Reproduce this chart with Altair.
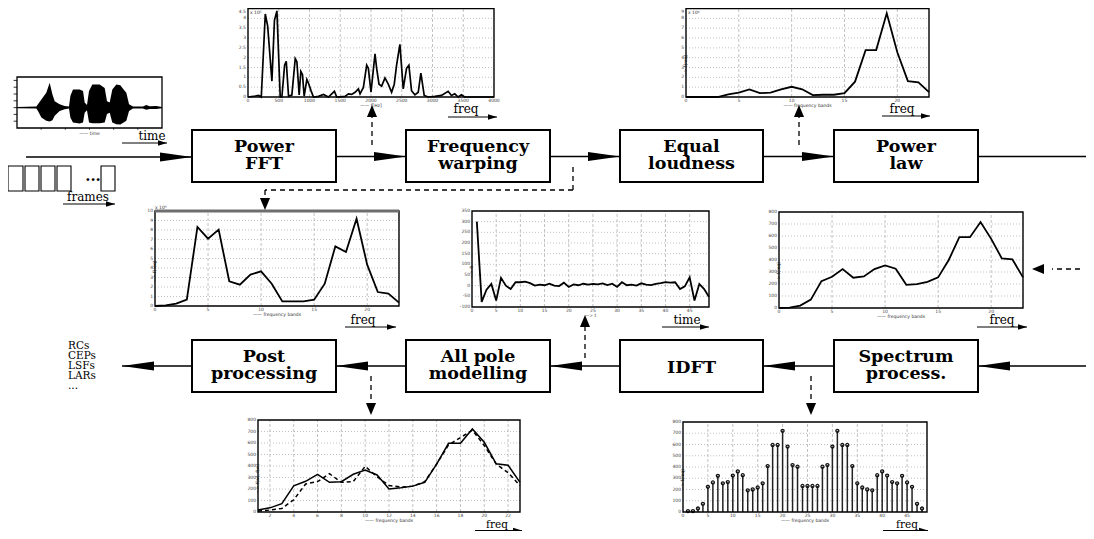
import altair as alt
import pandas as pd

# ===================== values =====================
# input speech signal: upper / lower envelope of the waveform
wave_t = [0.0, 0.200, 0.217, 0.252, 0.303, 0.338, 0.366, 0.390, 0.441, 0.493, 0.538, 0.552,
          0.579, 0.648, 0.683, 0.700, 0.724, 0.745, 0.779, 0.855, 0.907, 0.931, 0.959, 0.986,
          1.028, 1.069, 1.103, 1.131, 1.159, 1.200, 1.303, 1.338, 1.372, 1.441, 1.5]
wave_up = [0.02, 0.03, 0.10, 0.24, 0.44, 0.73, 0.39, 0.19, 0.10, 0.05, 0.03, 0.34,
           0.53, 0.53, 0.49, 0.15, 0.08, 0.49, 0.68, 0.68, 0.58, 0.19, 0.15, 0.53,
           0.68, 0.66, 0.53, 0.44, 0.10, 0.03, 0.03, 0.08, 0.04, 0.05, 0.02]
wave_lo = [-0.02, -0.03, -0.10, -0.29, -0.39, -0.41, -0.37, -0.24, -0.10, -0.05, -0.03, -0.29,
           -0.44, -0.47, -0.44, -0.15, -0.08, -0.44, -0.46, -0.46, -0.44, -0.19, -0.15, -0.44,
           -0.49, -0.50, -0.44, -0.39, -0.10, -0.03, -0.03, -0.06, -0.04, -0.04, -0.02]

# power spectrum (FFT) of one frame
fft_f = [0, 119, 173, 216, 281, 320, 389, 430, 470, 524, 551, 595, 622, 659, 713, 768, 795,
         832, 859, 886, 913, 957, 984, 1027, 1065, 1146, 1227, 1308, 1405, 1443, 1578, 1632,
         1686, 1741, 1795, 1822, 1876, 1930, 1957, 2000, 2065, 2092, 2130, 2173, 2227, 2281,
         2335, 2378, 2416, 2470, 2524, 2578, 2616, 2659, 2714, 2768, 2811, 2865, 2930, 3038,
         3146, 3254, 3308, 3362, 3416, 3470, 3524, 4000]
fft_p = [0, 0.05, 0.08, 0, 4.22, 3.6, 0.81, 3.9, 4.38, 0, 0, 1.62, 1.82, 0.05, 0.1, 1.95, 1.79,
         0.1, 1.30, 1.14, 0.05, 0.89, 0.7, 0.3, 0, 0.03, 0.13, 0, 0.29, 0, 0.03, 0.16,
         0.13, 0.24, 0.41, 0.16, 0.49, 1.62, 1.46, 0.24, 2.19, 1.46, 0.65, 0.55, 0.97, 0.65,
         0.24, 0.65, 1.62, 2.68, 0.41, 1.46, 1.62, 0.32, 0.11, 0.24, 1.22, 0.08, 0, 0.03,
         0.08, 0.29, 0.08, 0.16, 0, 0.11, 0, 0]

bands = [0, 1, 2, 3, 4, 5, 6, 7, 8, 9, 10, 11, 12, 13, 14, 15, 16, 17, 18, 19, 20, 21, 22, 23]
# after equal loudness weighting
eql_loud = [0, 0, 0, 0, 0.26, 0.45, 0.78, 0.39, 0.45, 0.78, 1.04, 0.78, 0.19, 0.23, 0.23,
            0.39, 1.56, 4.77, 4.77, 8.51, 4.55, 1.62, 1.49, 0.49]
# after frequency warping (critical band spectrum)
warped = [0, 0.07, 0.25, 0.67, 8.32, 7.09, 8.04, 2.6, 2.25, 3.3, 3.65, 2.35, 0.49, 0.49,
          0.49, 0.67, 2.35, 6.28, 5.68, 9.19, 4.35, 1.47, 1.30, 0.35]
# after power law
powlaw = [0, 3, 20, 70, 224, 260, 324, 252, 263, 324, 355, 327, 193, 199, 218, 255, 400, 590,
          590, 716, 576, 414, 406, 255]

# autocorrelation (IDFT output)
lags = [1, 2, 3, 4, 5, 6, 7, 8, 9, 10, 11, 12, 13, 14, 15, 16, 17, 18, 19, 20, 21, 22, 23, 24,
        25, 26, 27, 28, 29, 30, 31, 32, 33, 34, 35, 36, 37, 38, 39, 40, 41, 42, 43, 44, 45, 46,
        47, 48, 49]
autocorr = [300, -76, -19, 8, -70, 37, 0, -16, 16, 16, 19, 12, 0, 5, 2, 9, 0, -2, 14, -6, 6, 2,
            9, 5, 8, 6, 11, 3, 9, -6, 16, 2, 5, 0, 11, 5, 3, 8, 12, 17, 14, 16, -16, -3, 39,
            -70, 8, -16, -53]

# spectrum vs all-pole model
bands_d = [1, 2, 3, 4, 5, 6, 7, 8, 9, 10, 11, 12, 13, 14, 15, 16, 17, 18, 19, 20, 21, 22, 23]
spec_d = [17, 36, 72, 228, 267, 328, 258, 264, 328, 364, 322, 200, 211, 225, 258, 417, 597,
          597, 722, 606, 419, 406, 258]
allpole_d = [8, 17, 31, 106, 244, 264, 333, 258, 264, 397, 306, 231, 217, 225, 264, 417, 583,
             647, 711, 578, 417, 342, 230]

# symmetrised spectrum (stem plot)
idx_e = [1, 2, 3, 4, 5, 6, 7, 8, 9, 10, 11, 12, 13, 14, 15, 16, 17, 18, 19, 20, 21, 22, 23, 24,
         25, 26, 27, 28, 29, 30, 31, 32, 33, 34, 35, 36, 37, 38, 39, 40, 41, 42, 43, 44, 45, 46,
         47, 48]
stems_e = [8, 8, 31, 73, 224, 263, 322, 255, 266, 324, 361, 327, 193, 201, 218, 255, 408, 596,
           596, 722, 582, 417, 403, 232, 232, 232, 232, 403, 417, 582, 722, 596, 596, 408, 255,
           218, 201, 193, 327, 361, 324, 266, 255, 322, 263, 224, 73, 31]

# block labels
top_blocks = ["Power\nFFT", "Frequency\nwarping", "Equal\nloudness", "Power\nlaw"]
bottom_blocks = ["Post\nprocessing", "All pole\nmodelling", "IDFT", "Spectrum\nprocess."]
outputs = ["RCs", "CEPs", "LSFs", "LARs", "..."]

# ===================== layout (page pixels) =====================
OFF = 8
COLS = [(192, 336), (406, 550), (620, 763), (834, 978)]
ROW_TOP = (130, 182)
ROW_BOT = (340, 392)
PANELS = {
    "wave": (17, 77, 162, 128),
    "fft": (248, 8.5, 494, 97),
    "eql": (686, 8.5, 929, 97),
    "warp": (155, 211, 399, 306),
    "acf": (472, 211, 709, 307),
    "plaw": (779, 212, 1023, 308),
    "ap": (258, 420, 520, 512),
    "stem": (683, 422, 927, 512),
}
GRID = "#a8a8a8"
SERIF = "DejaVu Serif"
SANS = "DejaVu Sans"

CX = alt.Scale(domain=[0, 1094], range=[-OFF, 1094 - OFF], nice=False, zero=False)
CY = alt.Scale(domain=[0, 539], range=[-OFF, 539 - OFF], nice=False, zero=False)


def cxe(f):
    return alt.X(f, type="quantitative", scale=CX, axis=None)


def cye(f):
    return alt.Y(f, type="quantitative", scale=CY, axis=None)


def PX(f, s):
    return alt.X(f, type="quantitative", scale=s, axis=None)


def PY(f, s):
    return alt.Y(f, type="quantitative", scale=s, axis=None)


layers = []

# ---------------------------------------------------------------- panels
def scales(key, xdom, ydom):
    l, t, r, b = PANELS[key]
    xs = alt.Scale(domain=xdom, range=[l - OFF, r - OFF], nice=False, zero=False)
    ys = alt.Scale(domain=ydom, range=[b - OFF, t - OFF], nice=False, zero=False)
    return xs, ys


def grid(xs, ys, xdom, ydom, xg, yg):
    out = []
    if xg:
        d = pd.DataFrame({"v": xg, "a": ydom[0], "b": ydom[1]})
        out.append(alt.Chart(d).mark_rule(color=GRID, strokeWidth=0.7, strokeDash=[3, 2])
                   .encode(x=PX("v", xs), y=PY("a", ys), y2="b"))
    if yg:
        d = pd.DataFrame({"v": yg, "a": xdom[0], "b": xdom[1]})
        out.append(alt.Chart(d).mark_rule(color=GRID, strokeWidth=0.7, strokeDash=[1, 2])
                   .encode(y=PY("v", ys), x=PX("a", xs), x2="b"))
    return out


def frame(xs, ys, xdom, ydom, w=1.4):
    d = pd.DataFrame({"x0": [xdom[0]], "x1": [xdom[1]], "y0": [ydom[0]], "y1": [ydom[1]]})
    return alt.Chart(d).mark_rect(fillOpacity=0, stroke="black", strokeWidth=w).encode(
        x=PX("x0", xs), x2="x1", y=PY("y0", ys), y2="y1")


def ticklabels(xs, ys, xdom, ydom, xt, yt, top_inside=False):
    out = []
    d1 = pd.DataFrame({"v": xt, "t": [f"{v:g}" for v in xt], "p": ydom[0]})
    out.append(alt.Chart(d1).mark_text(font=SANS, fontSize=4.5, color="#444", baseline="top",
                                       dy=0.5).encode(
        x=PX("v", xs), y=PY("p", ys), text="t:N"))
    body = yt[:-1] if top_inside else yt
    d2 = pd.DataFrame({"v": body, "t": [f"{v:g}" for v in body], "p": xdom[0]})
    out.append(alt.Chart(d2).mark_text(font=SANS, fontSize=4.5, color="#444", align="right",
                                       baseline="middle", dx=-2).encode(
        x=PX("p", xs), y=PY("v", ys), text="t:N"))
    if top_inside:
        d3 = pd.DataFrame({"v": yt[-1:], "t": [f"{v:g}" for v in yt[-1:]], "p": xdom[0]})
        out.append(alt.Chart(d3).mark_text(font=SANS, fontSize=4.5, color="#444", align="right",
                                           baseline="top", dx=-2).encode(
            x=PX("p", xs), y=PY("v", ys), text="t:N"))
    return out


def note(xs, ys, x, y, text, dx=0, dy=0, angle=0, align="center", baseline="middle", size=4.5):
    d = pd.DataFrame({"x": [x], "y": [y], "t": [text]})
    return alt.Chart(d).mark_text(font=SANS, fontSize=size, color="#333", dx=dx, dy=dy,
                                  angle=angle, align=align, baseline=baseline).encode(
        x=PX("x", xs), y=PY("y", ys), text="t:N")


def line(xs, ys, xv, yv, dash=None, w=1.8):
    d = pd.DataFrame({"x": xv, "y": yv})
    kw = dict(color="black", strokeWidth=w)
    if dash:
        kw["strokeDash"] = dash
    return alt.Chart(d).mark_line(**kw).encode(x=PX("x", xs), y=PY("y", ys))


def std_panel(key, xdom, ydom, xt, yt, xtitle, ytitle, top_note=None):
    xs, ys = scales(key, xdom, ydom)
    top_inside = PANELS[key][1] < 12
    out = grid(xs, ys, xdom, ydom, [v for v in xt if xdom[0] < v < xdom[1]],
               [v for v in yt if ydom[0] < v < ydom[1]])
    out += ticklabels(xs, ys, xdom, ydom, xt, yt, top_inside)
    xm = (xdom[0] + xdom[1]) / 2
    ym = (ydom[0] + ydom[1]) / 2
    out.append(note(xs, ys, xm, ydom[0], xtitle, dy=9))
    if ytitle:
        out.append(note(xs, ys, xdom[0], ym, ytitle, dx=-13, angle=270))
    if top_note:
        if top_inside:
            out.append(note(xs, ys, xdom[0], ydom[1], top_note, align="left", baseline="top",
                            dx=2, dy=1.5))
        else:
            out.append(note(xs, ys, xdom[0], ydom[1], top_note, align="left", baseline="bottom",
                            dy=-1))
    return xs, ys, out


# waveform
wx, wy = scales("wave", [0, 1.5], [-0.6, 0.9])
wd = pd.DataFrame({"t": wave_t, "u": wave_up, "l": wave_lo})
layers.append(alt.Chart(wd).mark_area(color="black", opacity=1).encode(
    x=PX("t", wx), y=PY("u", wy), y2="l"))
wt = pd.DataFrame({"v": [-0.4, -0.2, 0.0, 0.2, 0.4, 0.6, 0.8], "a": -0.035, "b": 0.0})
layers.append(alt.Chart(wt).mark_rule(color="black", strokeWidth=0.8).encode(
    y=PY("v", wy), x=PX("a", wx), x2="b"))
wb = pd.DataFrame({"v": [0.25, 0.5, 0.75, 1.0, 1.25], "a": -0.6, "b": -0.65})
layers.append(alt.Chart(wb).mark_rule(color="black", strokeWidth=0.8).encode(
    x=PX("v", wx), y=PY("a", wy), y2="b"))
layers.append(frame(wx, wy, [0, 1.5], [-0.6, 0.9], w=1.3))
layers.append(note(wx, wy, 0.75, -0.6, "—— time", dy=6))

# FFT
xs, ys, ls = std_panel("fft", [0, 4000], [0, 4.5],
                       [0, 500, 1000, 1500, 2000, 2500, 3000, 3500, 4000],
                       [0, 0.5, 1, 1.5, 2, 2.5, 3, 3.5, 4, 4.5], "—— f[Hz]", None, "x 10⁵")
layers += ls
layers.append(line(xs, ys, fft_f, fft_p, w=1.7))
layers.append(frame(xs, ys, [0, 4000], [0, 4.5]))

# equal loudness
xs, ys, ls = std_panel("eql", [0, 23], [0, 9], [0, 5, 10, 15, 20], [0, 1, 2, 3, 4, 5, 6, 7, 8, 9],
                       "—— frequency bands", "—> f(req)", "x 10⁴")
layers += ls
layers.append(line(xs, ys, bands, eql_loud))
layers.append(frame(xs, ys, [0, 23], [0, 9]))

# warped
xs, ys, ls = std_panel("warp", [0, 23], [0, 10], [0, 5, 10, 15, 20],
                       [0, 1, 2, 3, 4, 5, 6, 7, 8, 9, 10],
                       "—— frequency bands", "—> f(req)", "x 10⁶")
layers += ls
layers.append(line(xs, ys, bands, warped))
layers.append(frame(xs, ys, [0, 23], [0, 10]))
topd = pd.DataFrame({"a": [0], "b": [23], "y": [10]})
layers.append(alt.Chart(topd).mark_rule(color="#6e6e6e", strokeWidth=3).encode(
    x=PX("a", xs), x2="b", y=PY("y", ys)))

# autocorrelation
xs, ys, ls = std_panel("acf", [0, 49], [-100, 350], [0, 5, 10, 15, 20, 25, 30, 35, 40, 45],
                       [-100, -50, 0, 50, 100, 150, 200, 250, 300, 350], "—> t", "—> R")
layers += ls
layers.append(line(xs, ys, lags, autocorr))
layers.append(frame(xs, ys, [0, 49], [-100, 350]))

# power law
xs, ys, ls = std_panel("plaw", [0, 23], [0, 800], [0, 5, 10, 15, 20],
                       [0, 100, 200, 300, 400, 500, 600, 700, 800],
                       "—— frequency bands", "—> f(req)")
layers += ls
layers.append(line(xs, ys, bands, powlaw))
layers.append(frame(xs, ys, [0, 23], [0, 800]))

# all pole model vs spectrum
xs, ys, ls = std_panel("ap", [1, 23], [0, 800], [2, 4, 6, 8, 10, 12, 14, 16, 18, 20, 22],
                       [0, 100, 200, 300, 400, 500, 600, 700, 800],
                       "—— frequency bands", "—> f(w), f(w)")
layers += ls
layers.append(line(xs, ys, bands_d, spec_d, w=1.5))
layers.append(line(xs, ys, bands_d, allpole_d, dash=[4, 3], w=1.5))
layers.append(frame(xs, ys, [1, 23], [0, 800]))

# stems
xs, ys, ls = std_panel("stem", [0, 49], [0, 800], [0, 5, 10, 15, 20, 25, 30, 35, 40, 45],
                       [0, 100, 200, 300, 400, 500, 600, 700, 800],
                       "—— frequency bands", "—> f(req)")
layers += ls
sd = pd.DataFrame({"k": idx_e, "v": stems_e, "z": 0})
layers.append(alt.Chart(sd).mark_rule(color="#222", strokeWidth=1.5).encode(
    x=PX("k", xs), y=PY("z", ys), y2="v"))
layers.append(alt.Chart(sd).mark_point(shape="circle", filled=False, color="#111", size=9,
                                       strokeWidth=1.3, opacity=1).encode(
    x=PX("k", xs), y=PY("v", ys)))
layers.append(frame(xs, ys, [0, 49], [0, 800]))

# ---------------------------------------------------------------- diagram
HEAD = "M0,0L-1,-0.14L-1,0.14Z"      # long flow arrowheads
DHEAD = "M0,0L-1,-0.42L-1,0.42Z"     # dashed probe arrowheads
SHEAD = "M0,0L-1,-0.3L-1,0.3Z"       # small axis arrows


def rules(rows, w=1.5, dash=None):
    d = pd.DataFrame(rows, columns=["x0", "y0", "x1", "y1"])
    kw = dict(color="black", strokeWidth=w)
    if dash:
        kw["strokeDash"] = dash
    return alt.Chart(d).mark_rule(**kw).encode(x=cxe("x0"), y=cye("y0"), x2="x1", y2="y1")


def heads(rows, shape, size):
    d = pd.DataFrame(rows, columns=["x", "y", "a"])
    return alt.Chart(d).mark_point(shape=shape, size=size, filled=True, color="black",
                                   opacity=1, strokeWidth=0).encode(
        x=cxe("x"), y=cye("y"), angle=alt.Angle("a:Q", scale=None))


def texts(rows, size, weight="normal", align="center", line_h=None):
    d = pd.DataFrame(rows, columns=["x", "y", "t"])
    kw = dict(font=SERIF, fontSize=size, fontWeight=weight, color="black",
              align=align, baseline="alphabetic")
    if line_h:
        kw["lineBreak"] = "\n"
        kw["lineHeight"] = line_h
    return alt.Chart(d).mark_text(**kw).encode(x=cxe("x"), y=cye("y"), text="t:N")


yt = 156.5
yb = 366
flow = [(26, 157, 192, 157), (336, yt, 406, yt), (550, yt, 620, yt), (763, yt, 834, yt),
        (978, yt, 1094, yt),
        (1094, yb, 978, yb), (834, yb, 763, yb), (620, yb, 550, yb), (406, yb, 336, yb),
        (192, yb, 122, yb)]
layers.append(rules(flow, w=1.5))
layers.append(heads([(192, 157, 0), (406, yt, 0), (620, yt, 0), (834, yt, 0),
                     (978, yb, 180), (763, yb, 180), (550, yb, 180), (336, yb, 180),
                     (122, yb, 180)], HEAD, 4096))

dashed = [(372, 145, 372, 116), (799, 145, 799, 116),
          (573, 167, 573, 190), (573, 190, 265, 190), (265, 190, 265, 199),
          (585, 358, 585, 326), (371, 376, 371, 404), (811, 376, 811, 404),
          (1080, 269, 1052, 269)]
layers.append(rules(dashed, w=1.3, dash=[5, 4]))
layers.append(heads([(372, 105, 270), (799, 105, 270), (265, 210, 90), (585, 315, 270),
                     (371, 415, 90), (811, 415, 90), (1032, 269, 180)], DHEAD, 576))

axis_arrows = [(122, 143, 167, 143), (63, 204, 115, 204), (448, 117, 497, 117),
               (882, 116, 930, 116), (345, 327, 396, 327), (662, 327, 709, 327),
               (977, 327, 1027, 327), (475, 530.5, 522, 530.5), (883, 530.5, 928, 530.5)]
layers.append(rules(axis_arrows, w=1.0))
layers.append(heads([(r[2], r[3], 0) for r in axis_arrows], SHEAD, 324))

# input frames
frames_rects = pd.DataFrame([(8, 166, 23, 191), (25, 166, 39, 191), (41, 166, 55, 191),
                             (57, 166, 71, 191), (101, 166, 115, 191)],
                            columns=["x0", "y0", "x1", "y1"])
layers.append(alt.Chart(frames_rects).mark_rect(fill="white", stroke="black", strokeWidth=1.1)
              .encode(x=cxe("x0"), x2="x1", y=cye("y0"), y2="y1"))
layers.append(texts([(93, 181, "...")], 15, "bold"))

# blocks
box_rows = []
label_rows = []
for (x0, x1), lab in zip(COLS, top_blocks):
    box_rows.append((x0, ROW_TOP[0], x1, ROW_TOP[1]))
    c = (ROW_TOP[0] + ROW_TOP[1]) / 2
    label_rows.append(((x0 + x1) / 2, c - 4, lab))
for (x0, x1), lab in zip(COLS, bottom_blocks):
    box_rows.append((x0, ROW_BOT[0], x1, ROW_BOT[1]))
    c = (ROW_BOT[0] + ROW_BOT[1]) / 2
    label_rows.append(((x0 + x1) / 2, c - 4 if "\n" in lab else c + 7, lab))
bd = pd.DataFrame(box_rows, columns=["x0", "y0", "x1", "y1"])
layers.append(alt.Chart(bd).mark_rect(fill="white", stroke="black", strokeWidth=2).encode(
    x=cxe("x0"), x2="x1", y=cye("y0"), y2="y1"))
layers.append(texts(label_rows, 17.5, "bold", line_h=17))

# small captions
captions = [(152, 140, "time"), (88, 201, "frames"), (466, 113, "freq"), (902, 113, "freq"),
            (363, 324, "freq"), (687, 324, "time"), (1002, 324, "freq")]
layers.append(texts(captions, 12))
layers.append(texts([(497, 528.3, "freq"), (907, 528.3, "freq")], 10.5))
layers.append(texts([(68, 349, "\n".join(outputs))], 10.5, align="left", line_h=10))

chart = alt.layer(*layers).resolve_scale(x="independent", y="independent").properties(
    width=1094 - 2 * OFF, height=539 - 2 * OFF,
    autosize=alt.AutoSizeParams(type="none"), padding=0, background="white"
).configure_view(strokeWidth=0)

chart.save("out.html", embed_options={"renderer": "svg", "actions": False})
